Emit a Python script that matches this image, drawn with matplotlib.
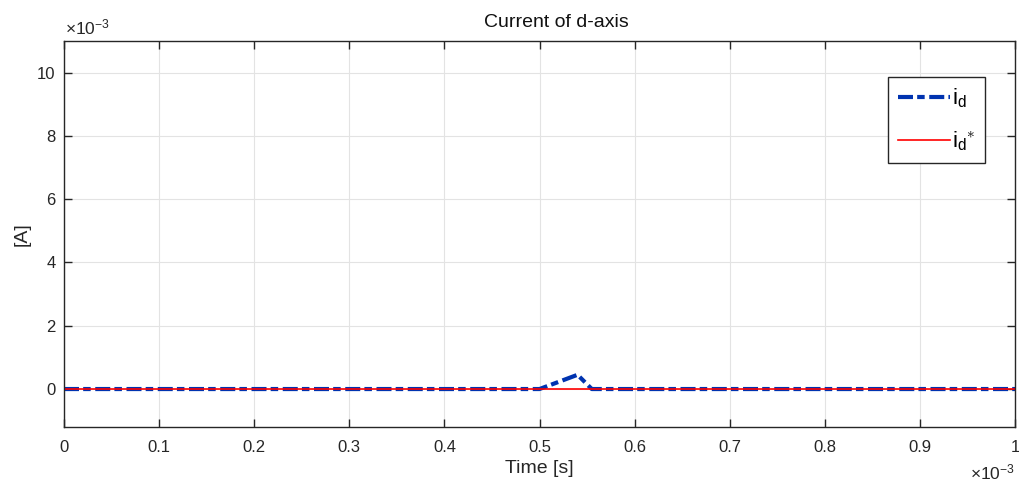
import matplotlib
matplotlib.use("Agg")
import matplotlib.pyplot as plt
from matplotlib.ticker import FuncFormatter

plt.rcParams['font.family'] = ['Liberation Sans', 'DejaVu Sans']
plt.rcParams['mathtext.fontset'] = 'custom'
plt.rcParams['mathtext.rm'] = 'Liberation Sans'
plt.rcParams['mathtext.it'] = 'Liberation Sans'

# time [s] and d-axis current [A]
t = [0.0, 0.5e-3, 0.54e-3, 0.555e-3, 1.0e-3]
i_d = [0.0, 0.0, 0.45e-3, 0.0, 0.0]
t_ref = [0.0, 1.0e-3]
i_d_ref = [0.0, 0.0]

xticks = [k * 0.1e-3 for k in range(11)]
yticks = [k * 2e-3 for k in range(6)]

fig = plt.figure(figsize=(10.19, 4.86), dpi=100)
ax = fig.add_axes([64 / 1019, 1 - 427 / 486, 951 / 1019, 386 / 486])

ax.plot(t, i_d, color="#0033B0", linestyle=(0, (3.6, 1.0, 1.8, 1.1)), linewidth=3,
        label=r"$\mathrm{i_d}$")
ax.plot(t_ref, i_d_ref, color="#FF0000", linewidth=1.2, label=r"$\mathrm{i_d}^{\ast}$")

ax.set_xlim(0, 1e-3)
ax.set_ylim(-1.2e-3, 11e-3)
ax.set_xticks(xticks)
ax.set_yticks(yticks)

# MATLAB style: labels in units of 10^-3, exponent shown separately
ax.xaxis.set_major_formatter(FuncFormatter(lambda v, p: "%g" % round(v * 1e3, 6)))
ax.yaxis.set_major_formatter(FuncFormatter(lambda v, p: "%g" % round(v * 1e3, 6)))
fig.text(65 / 1019, 1 - 27 / 486, r"$\times\mathrm{10^{-3}}$", fontsize=12.5,
         color="#262626", va="center", ha="left")
fig.text(1015 / 1019, 1 - 472 / 486, r"$\times\mathrm{10^{-3}}$", fontsize=12.5,
         color="#262626", va="center", ha="right")

ax.tick_params(direction="in", top=True, right=True, length=6, width=1,
               color="#262626", labelsize=12, labelcolor="#262626")
ax.tick_params(axis="x", pad=9)
ax.tick_params(axis="y", pad=6)
for s in ax.spines.values():
    s.set_color("#262626")
    s.set_linewidth(1)
ax.grid(True, color="#E3E3E3", linewidth=0.8)

ax.set_title("Current of d-axis", fontsize=14, color="#111111", pad=10, x=0.518)
ax.set_xlabel("Time [s]", fontsize=14, color="#262626", labelpad=4)
ax.set_ylabel("[A]", fontsize=14, color="#262626", labelpad=5)

leg = ax.legend(loc="upper right", bbox_to_anchor=(0.9685, 0.907), borderaxespad=0,
                fontsize=16, fancybox=False, edgecolor="#262626", framealpha=1,
                handlelength=2.3, handletextpad=0.1, borderpad=0.45, labelspacing=0.85)
leg.get_frame().set_linewidth(1)

fig.savefig("out.png", dpi=100)
